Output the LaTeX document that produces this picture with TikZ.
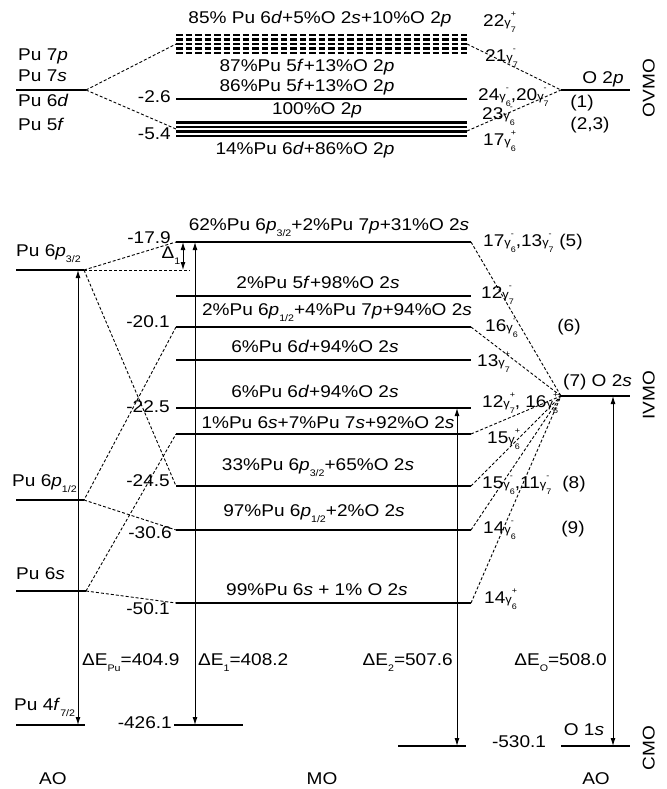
\documentclass[tikz,border=0pt]{standalone}
\usepackage{fontspec}
\setmainfont{Liberation Sans}[FakeStretch=1.12]
\usetikzlibrary{arrows.meta}
\newcommand{\sbx}[1]{\smash{\raisebox{-0.32em}{\fontsize{9.5}{10}\selectfont #1}}}
\newcommand{\gmm}[2]{{\fontsize{11.5}{12}\selectfont γ}\rlap{\smash{\raisebox{0.62em}{\fontsize{8}{8}\selectfont #2}}}\smash{\raisebox{-0.36em}{\fontsize{8}{8}\selectfont #1}}}
\tikzset{
  lvl/.style={line width=2.8pt},
  dlvl/.style={line width=2.1pt, dash pattern=on 6.5pt off 3pt},
  conn/.style={line width=0.9pt, dash pattern=on 3pt off 2pt},
  arr/.style={line width=1pt, {Latex[length=8pt,width=5pt]}-{Latex[length=8pt,width=5pt]}},
  lab/.style={inner sep=0pt, font=\fontsize{17}{19}\selectfont},
}
\begin{document}
\begin{tikzpicture}[x=1pt,y=-1pt]
\useasboundingbox[fill=white] (0,0) rectangle (666,789);
% ---------- coordinates: top (OVMO) ----------
\coordinate (t6dL) at (16,90);   \coordinate (t6dR) at (86,90);
\foreach \n/\y in {1/35,2/39.5,3/44,4/48.5,5/53}{
  \coordinate (d\n L) at (176,\y); \coordinate (d\n R) at (467,\y);}
\coordinate (m26L) at (176,99);  \coordinate (m26R) at (467,99);
\foreach \n/\y in {1/122.5,2/127,3/131.5,4/136}{
  \coordinate (f\n L) at (176,\y); \coordinate (f\n R) at (467,\y);}
\coordinate (fmidL) at (176,129); \coordinate (fmidR) at (467,131);
\coordinate (o2pL) at (561,90);  \coordinate (o2pR) at (630,90);
% ---------- coordinates: IVMO / CMO ----------
\coordinate (p32L) at (16,270);  \coordinate (p32R) at (84,270);
\coordinate (p12L) at (16,500);  \coordinate (p12R) at (84,500);
\coordinate (s6L)  at (16,591);  \coordinate (s6R)  at (86,591);
\coordinate (f72L) at (16,725);  \coordinate (f72R) at (85,725);
\foreach \n/\y in {A/242,B/296,C/327,D/360,E/408,F/434,G/486,H/530,I/603}{
  \coordinate (m\n L) at (176,\y); \coordinate (m\n R) at (471,\y);}
\coordinate (mJL) at (174,725);  \coordinate (mJR) at (243,725);
\coordinate (mKL) at (398,746);  \coordinate (mKR) at (466,746);
\coordinate (o2sL) at (561,396); \coordinate (o2sR) at (630,396);
\coordinate (o1sL) at (561,746); \coordinate (o1sR) at (630,746);
\coordinate (hEnd) at (190,270);
\coordinate (dlT) at (183,242);  \coordinate (dlB) at (183,270);
\coordinate (dPuT) at (78,270);  \coordinate (dPuB) at (78,725);
\coordinate (d1T) at (195,242);  \coordinate (d1B) at (195,725);
\coordinate (d2T) at (457,408);  \coordinate (d2B) at (457,746);
\coordinate (dOT) at (613,396);  \coordinate (dOB) at (613,746);
% ---------- connectors ----------
\draw[conn] (t6dR) -- (d3L);
\draw[conn] (t6dR) -- (fmidL);
\draw[conn] (d3R) -- (o2pL);
\draw[conn] (fmidR) -- (o2pL);
\draw[conn] (p32R) -- (mAL);
\draw[conn] (p32R) -- (mGL);
\draw[conn] (p32R) -- (hEnd);
\draw[conn] (mCL) -- (p12R);
\draw[conn] (p12R) -- (mHL);
\draw[conn] (s6R) -- (mFL);
\draw[conn] (s6R) -- (mIL);
\foreach \m in {A,C,F,G,H,I}{\draw[conn] (m\m R) -- (o2sL);}
% ---------- levels ----------
\draw[lvl] (t6dL) -- (t6dR);
\foreach \n in {1,...,5}{\draw[dlvl] (d\n L) -- (d\n R);}
\draw[lvl] (m26L) -- (m26R);
\foreach \n in {1,...,4}{\draw[line width=2.3pt] (f\n L) -- (f\n R);}
\draw[lvl] (o2pL) -- (o2pR);
\foreach \p in {p32,p12,s6,f72,o2s,o1s}{\draw[lvl] (\p L) -- (\p R);}
\foreach \m in {A,B,C,D,E,F,G,H,I,J,K}{\draw[lvl] (m\m L) -- (m\m R);}
% ---------- arrows ----------
\draw[arr] (dlT) -- (dlB);
\draw[arr] (dPuT) -- (dPuB);
\draw[arr] (d1T) -- (d1B);
\draw[arr] (d2T) -- (d2B);
\draw[arr] (dOT) -- (dOB);
% ---------- top labels ----------
\node[lab,anchor=mid] (lt1) at (320,21) {85\% Pu 6\textit{d}+5\%O 2\textit{s}+10\%O 2\textit{p}};
\node[lab,anchor=mid] (lt2) at (307,69) {87\%Pu 5\textit{f}+13\%O 2\textit{p}};
\node[lab,anchor=mid] (lt3) at (307,89) {86\%Pu 5\textit{f}+13\%O 2\textit{p}};
\node[lab,anchor=mid] (lt4) at (317,112) {100\%O 2\textit{p}};
\node[lab,anchor=mid] (lt5) at (305,152) {14\%Pu 6\textit{d}+86\%O 2\textit{p}};
\node[lab,anchor=mid east] (e26) at (171,100) {-2.6};
\node[lab,anchor=mid east] (e54) at (171,137) {-5.4};
\node[lab,anchor=mid west] (a7p) at (18,58) {Pu 7\textit{p}};
\node[lab,anchor=mid west] (a7s) at (18,79) {Pu 7\textit{s}};
\node[lab,anchor=mid west] (a6d) at (18,104) {Pu 6\textit{d}};
\node[lab,anchor=mid west] (a5f) at (18,128) {Pu 5\textit{f}};
\node[lab,anchor=mid west] (g1) at (483,24) {22\gmm{7}{+}};
\node[lab,anchor=mid west] (g2) at (485,59) {21\gmm{7}{-}};
\node[lab,anchor=mid west] (g3) at (478,98) {24\gmm{6}{-},20\gmm{7}{-}};
\node[lab,anchor=mid west] (g4) at (482,117) {23\gmm{6}{-}};
\node[lab,anchor=mid west] (g5) at (483,143) {17\gmm{6}{+}};
\node[lab,anchor=mid] (o2p) at (603,81) {O 2\textit{p}};
\node[lab,anchor=mid] (n1) at (582,105) {(1)};
\node[lab,anchor=mid] (n23) at (590,127) {(2,3)};
\node[lab,anchor=mid,rotate=90] (ovmo) at (652,88) {OVMO};
% ---------- IVMO labels ----------
\node[lab,anchor=mid west] (a32) at (16,254) {Pu 6\textit{p}\sbx{3/2}};
\node[lab,anchor=mid west] (a12) at (12,484) {Pu 6\textit{p}\sbx{1/2}};
\node[lab,anchor=mid west] (a6s) at (16,577) {Pu 6\textit{s}};
\node[lab,anchor=mid west] (a4f) at (14,708) {Pu 4\textit{f}\sbx{7/2}};
\node[lab,anchor=mid east] (e179) at (171,241) {-17.9};
\node[lab,anchor=mid east] (e201) at (170,325) {-20.1};
\node[lab,anchor=mid east] (e225) at (170,410) {-22.5};
\node[lab,anchor=mid east] (e245) at (170,484) {-24.5};
\node[lab,anchor=mid east] (e306) at (172,536) {-30.6};
\node[lab,anchor=mid east] (e501) at (170,612) {-50.1};
\node[lab,anchor=mid east] (e4261) at (172,726) {-426.1};
\node[lab,anchor=mid] (e5301) at (519,745) {-530.1};
\node[lab,anchor=mid] (lD1) at (171,256) {Δ\sbx{1}};
\node[lab,anchor=mid] (mA) at (329,228) {62\%Pu 6\textit{p}\sbx{3/2}+2\%Pu 7\textit{p}+31\%O 2\textit{s}};
\node[lab,anchor=mid] (mB) at (318,286) {2\%Pu 5\textit{f}+98\%O 2\textit{s}};
\node[lab,anchor=mid] (mC) at (337,313) {2\%Pu 6\textit{p}\sbx{1/2}+4\%Pu 7\textit{p}+94\%O 2\textit{s}};
\node[lab,anchor=mid] (mD) at (315,350) {6\%Pu 6\textit{d}+94\%O 2\textit{s}};
\node[lab,anchor=mid] (mE) at (315,395) {6\%Pu 6\textit{d}+94\%O 2\textit{s}};
\node[lab,anchor=mid] (mF) at (328,426) {1\%Pu 6\textit{s}+7\%Pu 7\textit{s}+92\%O 2\textit{s}};
\node[lab,anchor=mid] (mG) at (318,468) {33\%Pu 6\textit{p}\sbx{3/2}+65\%O 2\textit{s}};
\node[lab,anchor=mid] (mH) at (314,514) {97\%Pu 6\textit{p}\sbx{1/2}+2\%O 2\textit{s}};
\node[lab,anchor=mid] (mI) at (317,593) {99\%Pu 6\textit{s} + 1\% O 2\textit{s}};
\node[lab,anchor=mid west] (h1) at (483,244) {17\gmm{6}{-},13\gmm{7}{-}};
\node[lab,anchor=mid west] (h2) at (481,296) {12\gmm{7}{-}};
\node[lab,anchor=mid west] (h3) at (485,329) {16\gmm{6}{-}};
\node[lab,anchor=mid west] (h4) at (477,364) {13\gmm{7}{+}};
\node[lab,anchor=mid west] (h5) at (482,405) {12\gmm{7}{+}, 16\gmm{6}{+}};
\node[lab,anchor=mid west] (h6) at (487,441) {15\gmm{6}{+}};
\node[lab,anchor=mid west] (h7) at (482,486) {15\gmm{6}{-},11\gmm{7}{-}};
\node[lab,anchor=mid west] (h8) at (483,531) {14\gmm{6}{-}};
\node[lab,anchor=mid west] (h9) at (484,601) {14\gmm{6}{+}};
\node[lab,anchor=mid] (n5) at (571,244) {(5)};
\node[lab,anchor=mid] (n6) at (569,329) {(6)};
\node[lab,anchor=mid west] (o2s) at (563,384) {(7) O 2\textit{s}};
\node[lab,anchor=mid] (n8) at (574,486) {(8)};
\node[lab,anchor=mid] (n9) at (573,531) {(9)};
\node[lab,anchor=mid,rotate=90] (ivmo) at (652,395) {IVMO};
\node[lab,anchor=mid,rotate=90] (cmo) at (652,748) {CMO};
\node[lab,anchor=mid] (o1s) at (584,733) {O 1\textit{s}};
\node[lab,anchor=mid west] (lEPu) at (82,663) {ΔE\sbx{Pu}=404.9};
\node[lab,anchor=mid west] (lE1) at (198,663) {ΔE\sbx{1}=408.2};
\node[lab,anchor=mid east] (lE2) at (453,663) {ΔE\sbx{2}=507.6};
\node[lab,anchor=mid east] (lEO) at (607,663) {ΔE\sbx{O}=508.0};
\node[lab,anchor=mid] (bAO1) at (53,782) {AO};
\node[lab,anchor=mid] (bMO) at (322,782) {MO};
\node[lab,anchor=mid] (bAO2) at (596,782) {AO};
\end{tikzpicture}
\end{document}
